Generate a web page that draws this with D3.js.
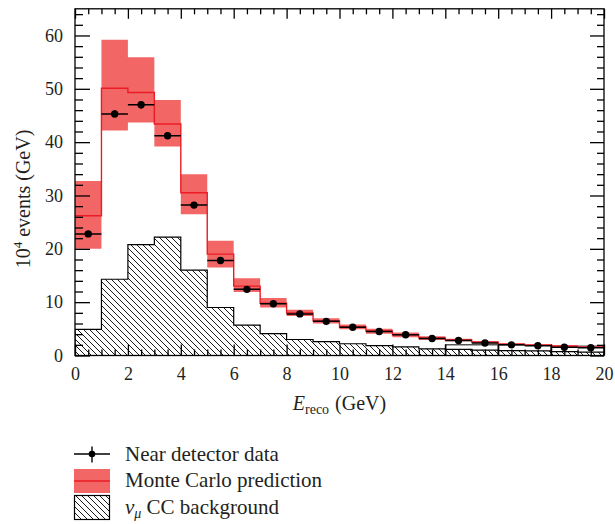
<!DOCTYPE html>
<html><head><meta charset="utf-8">
<script src="https://cdn.jsdelivr.net/npm/d3@7"></script>
<style>
body{margin:0;background:#fff}
svg{display:block}
svg text{font-family:"Liberation Serif","DejaVu Serif",serif !important;fill:#231f20}
</style>
</head><body>
<svg id="c" width="615" height="524"></svg>
<script>
// ---- data ----
const binEdges = d3.range(0, 21, 1); // 0..20 GeV, 1 GeV bins
const dataValues = [22.8, 45.3, 47.0, 41.2, 28.2, 17.8, 12.4, 9.7, 7.8, 6.4, 5.3, 4.5, 3.9, 3.2, 2.8, 2.35, 2.0, 1.85, 1.55, 1.45];
const dataErrors = [0.5, 0.7, 0.7, 0.6, 0.5, 0.4, 0.35, 0.3, 0.3, 0.25, 0.25, 0.2, 0.2, 0.2, 0.15, 0.15, 0.15, 0.15, 0.12, 0.12];
const mcValues   = [26.2, 50.1, 49.3, 43.4, 30.5, 19.0, 13.0, 9.8, 8.0, 6.5, 5.4, 4.6, 3.9, 3.3, 2.9, 2.5, 2.1, 1.95, 1.75, 1.55];
const mcHigh     = [32.7, 59.2, 55.9, 47.9, 34.0, 21.5, 14.5, 10.8, 8.6, 7.0, 5.8, 5.0, 4.3, 3.6, 3.15, 2.7, 2.3, 2.15, 1.95, 1.7];
const mcLow      = [20.0, 42.2, 43.7, 39.2, 26.5, 16.5, 11.9, 9.0, 7.4, 6.0, 4.9, 4.1, 3.4, 2.9, 2.65, 2.3, 1.9, 1.8, 1.6, 1.4];
const bgValues   = [4.9, 14.3, 20.8, 22.2, 16.0, 9.0, 5.7, 4.1, 3.0, 2.6, 2.2, 1.85, 1.6, 1.25, 1.15, 1.0, 0.9, 0.85, 0.72, 0.65];
const bgWideEdges  = [14, 16, 18, 20];
const bgWideValues = [2.0, 2.0, 1.75];
const xMajorTicks = [0, 2, 4, 6, 8, 10, 12, 14, 16, 18, 20];
const yMajorTicks = [0, 10, 20, 30, 40, 50, 60];
const legendLabels = ["Near detector data", "Monte Carlo prediction", "CC background"];

// ---- layout ----
const FONT = "'Liberation Serif','DejaVu Serif',serif";
const svg = d3.select("#c");
const L = 75, R = 604, T = 8.8, B = 355.5;
const x = d3.scaleLinear().domain([0, 20]).range([L, R]);
const y = d3.scaleLinear().domain([0, 65]).range([B, T]);
const bandColor = "#f26666", lineColor = "#ec1c24";

const defs = svg.append("defs");
const pat = defs.append("pattern").attr("id", "hatch")
  .attr("patternUnits", "userSpaceOnUse").attr("width", 6).attr("height", 6);
pat.append("path").attr("d", "M-1,-1L7,7M-1,5L1,7M5,-1L7,1")
  .attr("stroke", "#000").attr("stroke-width", 0.9).attr("fill", "none");
defs.append("clipPath").attr("id", "clip").append("rect")
  .attr("x", L).attr("y", T).attr("width", R - L).attr("height", B - T);

function stepPoints(edges, vals) {
  const pts = [];
  vals.forEach((v, i) => { pts.push([edges[i], v]); pts.push([edges[i + 1], v]); });
  return pts;
}
function closedStep(edges, vals) {
  const pts = [[edges[0], 0], ...stepPoints(edges, vals), [edges[edges.length - 1], 0]];
  return d3.line().x(d => x(d[0])).y(d => y(d[1]))(pts);
}

const g = svg.append("g").attr("clip-path", "url(#clip)");

// background hatched histogram
g.append("path").attr("d", closedStep(binEdges, bgValues))
  .attr("fill", "url(#hatch)").attr("stroke", "#000").attr("stroke-width", 1.2);
// wide-binned outline
bgWideValues.forEach((v, i) => {
  g.append("rect").attr("x", x(bgWideEdges[i])).attr("y", y(v))
    .attr("width", x(bgWideEdges[i + 1]) - x(bgWideEdges[i])).attr("height", y(0) - y(v))
    .attr("fill", "none").attr("stroke", "#000").attr("stroke-width", 1);
});

// MC band
const bandPts = binEdges.slice(0, -1).flatMap((e, i) => [
  {x: binEdges[i], lo: mcLow[i], hi: mcHigh[i]},
  {x: binEdges[i + 1], lo: mcLow[i], hi: mcHigh[i]}
]);
g.append("path")
  .attr("d", d3.area().x(d => x(d.x)).y0(d => y(d.lo)).y1(d => y(d.hi))(bandPts))
  .attr("fill", bandColor);

// MC line
g.append("path")
  .attr("d", d3.line().x(d => x(d[0])).y(d => y(d[1]))(stepPoints(binEdges, mcValues)))
  .attr("fill", "none").attr("stroke", lineColor).attr("stroke-width", 1.4);

// data points
const pts = g.append("g");
dataValues.forEach((v, i) => {
  const cx = x((binEdges[i] + binEdges[i + 1]) / 2);
  pts.append("line").attr("x1", x(binEdges[i])).attr("x2", x(binEdges[i + 1]))
    .attr("y1", y(v)).attr("y2", y(v)).attr("stroke", "#000").attr("stroke-width", 1.5);
  pts.append("line").attr("x1", cx).attr("x2", cx)
    .attr("y1", y(v - dataErrors[i])).attr("y2", y(v + dataErrors[i]))
    .attr("stroke", "#000").attr("stroke-width", 1.5);
  pts.append("circle").attr("cx", cx).attr("cy", y(v)).attr("r", 3.7).attr("fill", "#000");
});

// ---- axes (inward ticks on all sides) ----
const xMinor = d3.range(0, 20.01, 0.5).filter(v => v % 2 !== 0);
const yMinor = d3.range(0, 65, 2).filter(v => v % 10 !== 0);
function styleAxis(sel) {
  sel.attr("font-family", FONT);
  sel.select(".domain").remove();
  sel.selectAll("line").attr("stroke", "#000").attr("stroke-width", 1.3);
}
function styleLabels(sel) {
  sel.selectAll("text").attr("font-size", 18).style("font-family", FONT).attr("fill", "#231f20");
}
svg.append("g").attr("transform", `translate(0,${B})`)
  .call(d3.axisBottom(x).tickValues(xMajorTicks).tickSize(-11).tickPadding(12).tickFormat(d3.format("d")))
  .call(styleAxis).call(styleLabels);
svg.append("g").attr("transform", `translate(0,${B})`)
  .call(d3.axisBottom(x).tickValues(xMinor).tickSize(-6).tickFormat("")).call(styleAxis);
svg.append("g").attr("transform", `translate(0,${T})`)
  .call(d3.axisTop(x).tickValues(xMajorTicks).tickSize(-10).tickFormat("")).call(styleAxis);
svg.append("g").attr("transform", `translate(0,${T})`)
  .call(d3.axisTop(x).tickValues(xMinor).tickSize(-5.5).tickFormat("")).call(styleAxis);
svg.append("g").attr("transform", `translate(${L},0)`)
  .call(d3.axisLeft(y).tickValues(yMajorTicks).tickSize(-15).tickPadding(12).tickFormat(d3.format("d")))
  .call(styleAxis).call(styleLabels);
svg.append("g").attr("transform", `translate(${L},0)`)
  .call(d3.axisLeft(y).tickValues(yMinor).tickSize(-8).tickFormat("")).call(styleAxis);
svg.append("g").attr("transform", `translate(${R},0)`)
  .call(d3.axisRight(y).tickValues(yMajorTicks).tickSize(-14).tickFormat("")).call(styleAxis);
svg.append("g").attr("transform", `translate(${R},0)`)
  .call(d3.axisRight(y).tickValues(yMinor).tickSize(-7).tickFormat("")).call(styleAxis);

svg.append("rect").attr("x", L).attr("y", T).attr("width", R - L).attr("height", B - T)
  .attr("fill", "none").attr("stroke", "#000").attr("stroke-width", 1.3);

// axis titles
const xt = svg.append("text").attr("x", (L + R) / 2).attr("y", 410).attr("text-anchor", "middle")
  .attr("font-size", 20).style("font-family", FONT);
xt.append("tspan").attr("font-style", "italic").text("E");
xt.append("tspan").attr("font-size", 14).attr("dy", 4).text("reco");
xt.append("tspan").attr("dy", -4).attr("dx", 6).text("(GeV)");

const yt = svg.append("text").attr("transform", "translate(30,199) rotate(-90)")
  .attr("text-anchor", "middle").attr("font-size", 20).style("font-family", FONT);
yt.append("tspan").text("10");
yt.append("tspan").attr("font-size", 13).attr("dy", -8).text("4");
yt.append("tspan").attr("dy", 8).text(" events (GeV)");

// ---- legend ----
const lg = svg.append("g");
lg.append("line").attr("x1", 74).attr("x2", 110).attr("y1", 454).attr("y2", 454).attr("stroke", "#000").attr("stroke-width", 1.4);
lg.append("line").attr("x1", 92).attr("x2", 92).attr("y1", 446.5).attr("y2", 462.5).attr("stroke", "#000").attr("stroke-width", 1.4);
lg.append("circle").attr("cx", 92).attr("cy", 454).attr("r", 3.3).attr("fill", "#000");
lg.append("text").attr("x", 125).attr("y", 461).attr("font-size", 21).style("font-family", FONT).text(legendLabels[0]);

lg.append("rect").attr("x", 74).attr("y", 469).attr("width", 36).attr("height", 24).attr("fill", bandColor);
lg.append("line").attr("x1", 74).attr("x2", 110).attr("y1", 481).attr("y2", 481).attr("stroke", lineColor).attr("stroke-width", 1.3);
lg.append("text").attr("x", 125).attr("y", 487).attr("font-size", 21).style("font-family", FONT).text(legendLabels[1]);

lg.append("rect").attr("x", 74.5).attr("y", 495.5).attr("width", 35).attr("height", 24)
  .attr("fill", "url(#hatch)").attr("stroke", "#000").attr("stroke-width", 1.2);
const lt = lg.append("text").attr("x", 125).attr("y", 514).attr("font-size", 21).style("font-family", FONT);
lt.append("tspan").attr("font-style", "italic").text("ν");
lt.append("tspan").attr("font-style", "italic").attr("font-size", 14).attr("dy", 4).text("μ");
lt.append("tspan").attr("dy", -4).text(" " + legendLabels[2]);
</script>
</body></html>
